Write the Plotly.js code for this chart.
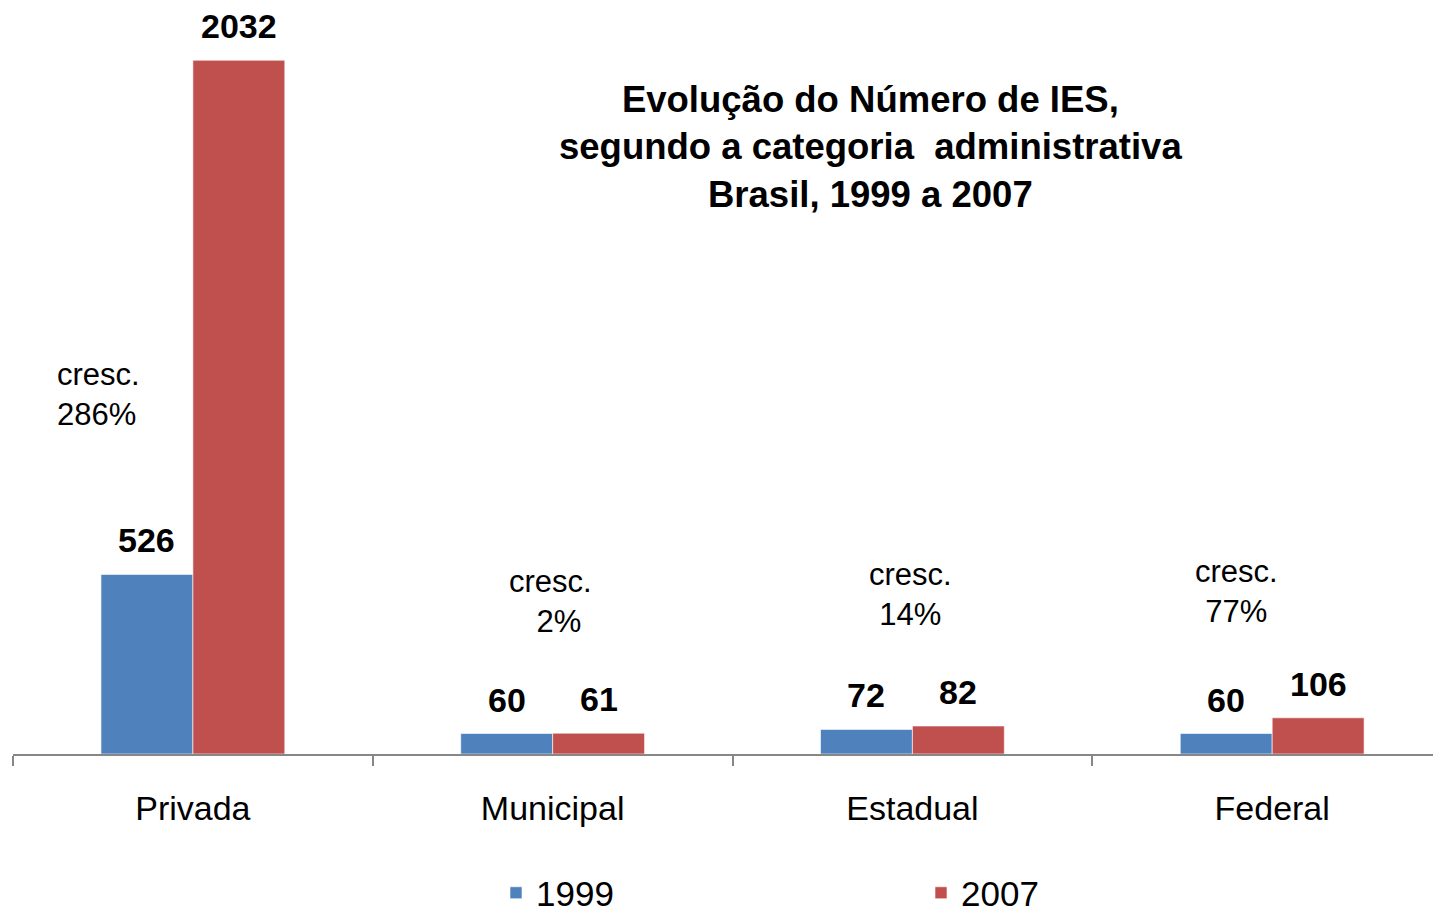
<!DOCTYPE html>
<html>
<head>
<meta charset="utf-8">
<script src="https://cdn.plot.ly/plotly-3.0.1.min.js"></script>
<style>
  html, body { margin: 0; padding: 0; background: #fff; }
  #chart { width: 1433px; height: 914px; }
</style>
</head>
<body>
<div id="chart"></div>
<script>
// Evolução do Número de IES por categoria administrativa
const categories = ['Privada', 'Municipal', 'Estadual', 'Federal'];
const ies1999 = [526, 60, 72, 60];
const ies2007 = [2032, 61, 82, 106];
const growthLabels = ['cresc.<br>286%', 'cresc.<br>  2%', 'cresc.<br>14%', 'cresc.<br>77%'];

const FONT = 'Liberation Sans, Arial, sans-serif';
const BLUE = '#4F81BD';
const RED = '#C0504D';

// plot area in pixels: left 13, right 1433, top 37, bottom 754
const toPx = (px) => (px - 13) / 1420;
const toPy = (py) => (754 - py) / 717;

const bars = [
    { name: '1999', y: ies1999, color: BLUE },
    { name: '2007', y: ies2007, color: RED },
].map(s => ({
    type: 'bar',
    name: s.name,
    x: categories,
    y: s.y,
    marker: { color: s.color, line: { color: 'rgba(255,255,255,0.6)', width: 1 } },
    hoverinfo: 'x+y+name',
}));

const valueLabels = [];
categories.forEach((c, i) => {
    [[ies1999[i], -46], [ies2007[i], 46]].forEach(([v, dx]) => {
        valueLabels.push({
            x: c, y: v, xref: 'x', yref: 'y',
            text: '<b>' + v + '</b>', showarrow: false,
            xshift: dx, yshift: 13, yanchor: 'bottom',
            font: { family: FONT, size: 34, color: '#000' },
        });
    });
});

const growthPos = [[55, 394, 'left'], [550, 601, 'center'], [910, 594, 'center'], [1236, 591, 'center']];
const growthNotes = growthLabels.map((t, i) => ({
    x: toPx(growthPos[i][0]), y: toPy(growthPos[i][1]), xref: 'paper', yref: 'paper',
    xanchor: growthPos[i][2], yanchor: 'middle', align: growthPos[i][2],
    text: t, showarrow: false,
    font: { family: FONT, size: 31, color: '#000' },
}));

const titleNote = {
    x: toPx(870), y: toPy(147), xref: 'paper', yref: 'paper',
    xanchor: 'center', yanchor: 'middle', align: 'center', showarrow: false,
    text: '<b>Evolução do Número de IES,<br>segundo a categoria  administrativa<br>Brasil, 1999 a 2007</b>',
    font: { family: FONT, size: 36.5, color: '#000' },
};

const layout = {
    width: 1433, height: 914,
    paper_bgcolor: '#fff',
    plot_bgcolor: '#fff',
    font: { family: FONT, color: '#000', size: 30 },
    margin: { t: 37, b: 160, l: 13, r: 0, autoexpand: false },
    barmode: 'group',
    bargap: 0.489,
    bargroupgap: 0,
    showlegend: true,
    legend: {
        orientation: 'h',
        x: toPx(496), xanchor: 'left',
        y: toPy(893), yanchor: 'middle',
        entrywidth: 380, entrywidthmode: 'pixels',
        font: { family: FONT, size: 35, color: '#000' },
    },
    xaxis: {
        type: 'category',
        range: [-0.5, 3.447],
        showline: true, linecolor: '#878787', linewidth: 2,
        ticks: 'outside', tickson: 'boundaries', ticklen: 10, tickwidth: 2, tickcolor: '#878787',
        ticklabelstandoff: 23,
        tickfont: { family: FONT, size: 34, color: '#000' },
        showgrid: false, zeroline: false,
    },
    yaxis: {
        range: [0, 2100],
        visible: false,
        showgrid: false, zeroline: false,
    },
    annotations: [titleNote, ...growthNotes, ...valueLabels],
};

Plotly.newPlot('chart', bars, layout, { displayModeBar: false, staticPlot: true });
</script>
</body>
</html>
